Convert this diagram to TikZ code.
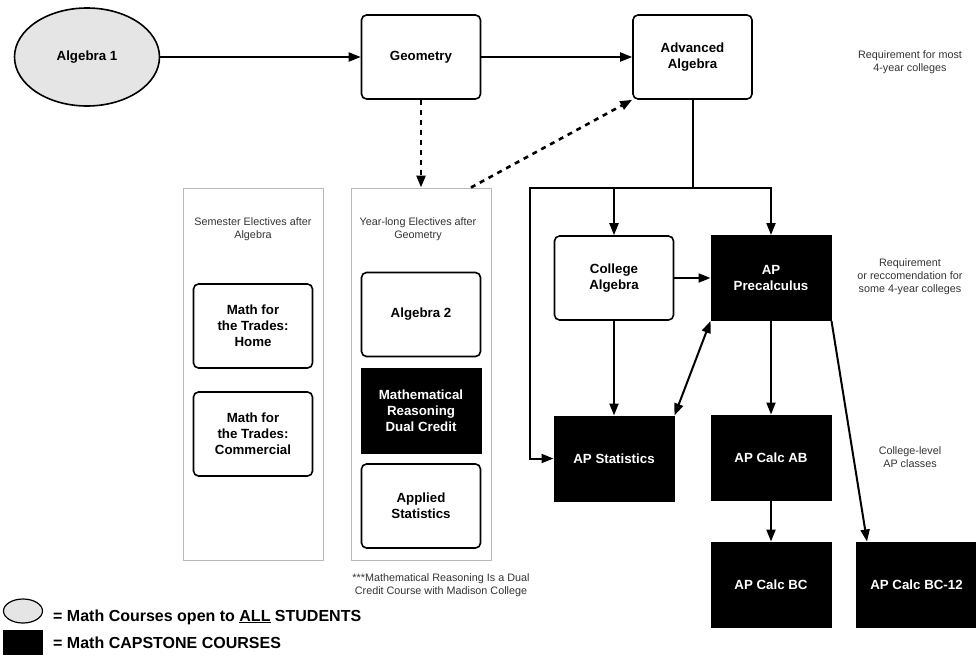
\documentclass[tikz,border=0pt]{standalone}
\usepackage{fontspec}
\setmainfont{Liberation Sans}
\usetikzlibrary{arrows.meta,shapes.geometric}

\begin{document}
\begin{tikzpicture}[
  x=1pt, y=-1pt,
  every node/.style={font=\fontsize{13.3}{16}\selectfont\bfseries},
  course/.style={draw, line width=1.6pt, rounded corners=5pt, align=center, minimum width=119pt, minimum height=84pt, inner sep=2pt},
  capstone/.style={draw, fill=black, text=white, line width=1pt, align=center, minimum width=120pt, minimum height=85pt, inner sep=2pt},
  opencourse/.style={ellipse, draw, fill=gray!20, line width=1.6pt, minimum width=145pt, minimum height=98pt},
  panel/.style={draw=gray!55, line width=1pt, minimum width=140pt, minimum height=372pt},
  remark/.style={font=\fontsize{10.8}{13}\selectfont, text=black!80, align=center},
  keytext/.style={font=\fontsize{16}{19}\selectfont\bfseries, anchor=base west, inner sep=0pt},
  arrow/.style={-{Triangle[length=12pt,width=9pt]}, line width=2pt},
  bothway/.style={{Triangle[length=12pt,width=9pt]}-{Triangle[length=12pt,width=9pt]}, line width=2pt},
  dasharrow/.style={arrow, line width=2.6pt, dash pattern=on 5pt off 5pt},
  wire/.style={line width=2pt, line cap=rect}
]
\useasboundingbox (0,0) rectangle (976,664);

% main sequence
\node[opencourse] (alg1) at (87,57) {Algebra 1};
\node[course] (geom) at (421,57) {Geometry};
\node[course] (advalg) at (692.5,57) {Advanced\\Algebra};
\node[remark] (reqmost) at (910,62) {Requirement for most\\4-year colleges};

% elective panels
\node[panel] (sempanel) at (253,374) {};
\node[panel] (yearpanel) at (421,374) {};
\node[remark] (semtitle) at (253,229) {Semester Electives after\\Algebra};
\node[remark] (yeartitle) at (418,229) {Year-long Electives after\\Geometry};
\node[course] (tradeshome) at (253,326) {Math for\\the Trades:\\Home};
\node[course] (tradescomm) at (253,434) {Math for\\the Trades:\\Commercial};
\node[course] (alg2) at (421,314.5) {Algebra 2};
\node[capstone] (mathreason) at (421,410.5) {Mathematical\\Reasoning\\Dual Credit};
\node[course] (appstat) at (421,506) {Applied\\Statistics};
\node[remark] (dualnote) at (441,585) {***Mathematical Reasoning Is a Dual\\Credit Course with Madison College};

% upper track
\node[course] (colalg) at (614,278) {College\\Algebra};
\node[capstone] (precalc) at (771,278) {AP\\Precalculus};
\node[remark] (reqsome) at (910,277) {Requirement\\or reccomendation for\\some 4-year colleges};
\node[capstone] (apstat) at (614,458.5) {AP Statistics};
\node[capstone] (calcab) at (771,457.5) {AP Calc AB};
\node[remark] (aplevel) at (910,457) {College-level\\AP classes};
\node[capstone] (calcbc) at (771,584.5) {AP Calc BC};
\node[capstone] (calcbctwelve) at (916.5,584.5) {AP Calc BC-12};

% legend
\node[ellipse, draw, fill=gray!20, line width=1.2pt, minimum width=39pt, minimum height=24pt, inner sep=0pt] (keyopen) at (23,611) {};
\node[fill=black, minimum width=40pt, minimum height=25pt, inner sep=0pt] (keycap) at (23,642.5) {};
\node[keytext] (keyopentext) at (53,621) {= Math Courses open to \underline{ALL} STUDENTS};
\node[keytext] (keycaptext) at (53,648) {= Math CAPSTONE COURSES};

% connectors
\coordinate (busL) at (530,188);
\draw[arrow] (alg1) -- (geom);
\draw[arrow] (geom) -- (advalg);
\draw[dasharrow] (geom) -- (yearpanel);
\draw[dasharrow] (yearpanel.75) -- (advalg.south west);
\draw[wire] (advalg.south) -- (advalg.south |- busL);
\draw[wire] (busL) -- (precalc.north |- busL);
\draw[arrow] (busL) |- (apstat.west);
\draw[arrow] (colalg.north |- busL) -- (colalg.north);
\draw[arrow] (precalc.north |- busL) -- (precalc.north);
\draw[arrow] (colalg) -- (precalc);
\draw[arrow] (colalg) -- (apstat);
\draw[bothway] (apstat.north east) -- (precalc.south west);
\draw[arrow] (precalc) -- (calcab);
\draw[arrow] (calcab) -- (calcbc);
\draw[arrow] (precalc.south east) -- (calcbctwelve.139);
\end{tikzpicture}
\end{document}
